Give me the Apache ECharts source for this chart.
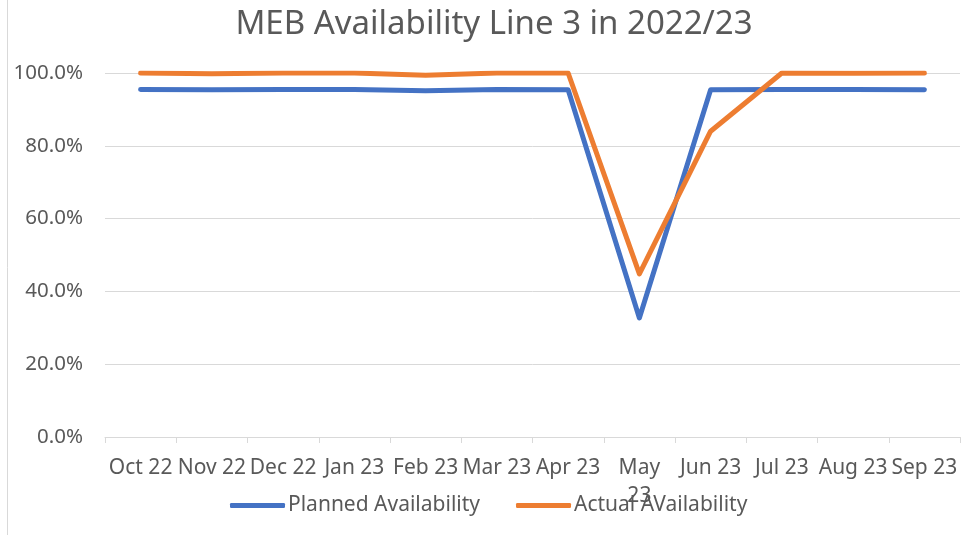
<!DOCTYPE html>
<html>
<head>
<meta charset="utf-8">
<script src="https://cdn.jsdelivr.net/npm/echarts@6/dist/echarts.min.js"></script>
<style>html,body{margin:0;padding:0;background:#fff}#c{width:962px;height:535px}</style>
</head>
<body>
<div id="c"></div>
<script>
const titleText = 'MEB Availability Line 3 in 2022/23';
const categories = ['Oct 22','Nov 22','Dec 22','Jan 23','Feb 23','Mar 23','Apr 23','May 23','Jun 23','Jul 23','Aug 23','Sep 23'];
const plannedName = 'Planned Availability';
const actualName = 'Actual AVailability';
const planned = [0.955,0.954,0.955,0.955,0.951,0.955,0.954,0.327,0.954,0.955,0.955,0.954];
const actual = [1.000,0.998,1.000,1.000,0.994,1.000,1.000,0.448,0.840,1.000,0.999,1.000];
const yTicks = [0,0.2,0.4,0.6,0.8,1.0];

const FONT = 'Noto Sans';
const chart = echarts.init(document.getElementById('c'), null, {renderer:'canvas'});
chart.setOption({
  backgroundColor:'#fff',
  animation:false,
  title:{
    text:titleText, left:489, top:3, textAlign:'center',
    textStyle:{fontFamily:FONT, fontSize:33, fontWeight:'normal', color:'#595959'}
  },
  graphic:[{type:'line', shape:{x1:7.5,y1:0,x2:7.5,y2:535}, style:{stroke:'#d9d9d9', lineWidth:1}}],
  legend:{
    left:225, top:490, itemWidth:55, itemHeight:5, itemGap:36, icon:'roundRect',
    textStyle:{fontFamily:FONT, fontSize:21, color:'#595959', padding:[0,0,0,-2]},
    data:[plannedName, actualName]
  },
  grid:{left:105, right:2, top:73, bottom:98, containLabel:false},
  xAxis:{
    type:'category', data:categories, boundaryGap:true,
    axisLine:{show:true, lineStyle:{color:'#d9d9d9', width:1}},
    axisTick:{show:true, length:6, lineStyle:{color:'#d9d9d9'}},
    axisLabel:{interval:0, margin:17, fontFamily:FONT, fontSize:21, color:'#595959', lineHeight:28,
      formatter:function(v){ return v==='May 23' ? 'May\n23' : v; }}
  },
  yAxis:{
    type:'value', min:yTicks[0], max:yTicks[yTicks.length-1], interval:0.2,
    axisLine:{show:false}, axisTick:{show:false},
    splitLine:{lineStyle:{color:'#d9d9d9', width:1}},
    axisLabel:{margin:22, fontFamily:FONT, fontSize:20.5, color:'#595959',
      formatter:function(v){ return (v*100).toFixed(1)+'%'; }}
  },
  series:[
    {name:plannedName, type:'line', data:planned, symbol:'none', color:'#4472C4',
      lineStyle:{width:5, color:'#4472C4', cap:'round', join:'round'}},
    {name:actualName, type:'line', data:actual, symbol:'none', color:'#ED7D31',
      lineStyle:{width:5, color:'#ED7D31', cap:'round', join:'round'}}
  ]
});
</script>
</body>
</html>
